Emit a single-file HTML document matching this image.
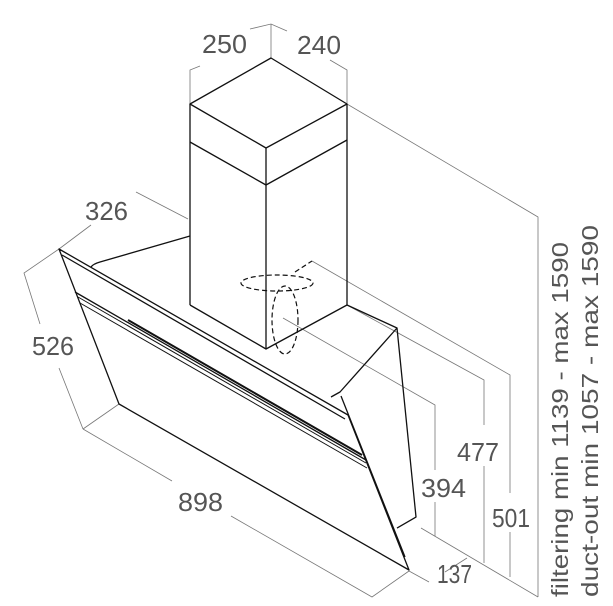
<!DOCTYPE html>
<html><head><meta charset="utf-8"><style>
html,body{margin:0;padding:0;background:#fff}
svg{display:block}
text{font-family:"Liberation Sans",sans-serif;fill:#555}
</style></head><body>
<svg width="613" height="606" viewBox="0 0 613 606" xmlns="http://www.w3.org/2000/svg">
<g fill="none" stroke="#777" stroke-width="0.8">
<polyline points="190,104 190,70 200,66"/>
<polyline points="250,29 271,24 287,31"/>
<line x1="271" y1="24" x2="271" y2="58"/>
<polyline points="347,104 347,70 330,60"/>
<polyline points="347,104 538,217 538,597"/>
<line x1="421" y1="528" x2="538" y2="597"/>
<polyline points="312,261 510,375 510,493"/>
<line x1="510" y1="532" x2="510" y2="577"/>
<polyline points="347,305 484,380 484,425"/>
<line x1="484" y1="466" x2="484" y2="563"/>
<polyline points="283,318 435,405 435,470"/>
<line x1="435" y1="502" x2="435" y2="536"/>
<polyline points="136,192 188,219"/>
<line x1="59" y1="249" x2="91" y2="225"/>
<polyline points="59,249 24,273 40,324"/>
<polyline points="59,368 83,429"/>
<line x1="119" y1="404" x2="83" y2="429"/>
<line x1="83" y1="429" x2="172" y2="481"/>
<polyline points="231,516 372,597 409,571"/>
<polyline points="409,571 429,582"/>
<line x1="467" y1="558" x2="445" y2="572"/>
</g>
<g fill="none" stroke="#111" stroke-width="1.3" stroke-linejoin="round">
<polygon points="271,58 347,104 266,148 190,104"/>
<line x1="266" y1="148" x2="266" y2="185"/>
<line x1="190" y1="104" x2="190" y2="305"/>
<line x1="347" y1="104" x2="347" y2="305"/>
<polyline points="190,142 266,185 347,140"/>
<line x1="266" y1="185" x2="266" y2="349"/>
<polyline points="190,305 266,349 347,305"/>
<path d="M190,236 L100,262 Q93,264 91,267"/>
<polyline points="347,305 397,328 416,517 397,528"/>
<polyline points="397,328 340,392 331,397"/>
<polygon points="59,249 348,415 409,570 119,404"/>
<line x1="62" y1="255" x2="345" y2="419"/>
<line x1="341" y1="396" x2="405" y2="557"/>
<line x1="75" y1="292" x2="366" y2="460"/>
<line x1="78" y1="297" x2="366" y2="463" stroke-width="1"/>
<line x1="80" y1="303" x2="367" y2="468" stroke-width="1"/>
<line x1="128" y1="320" x2="362" y2="455" stroke-width="2"/>
</g>
<g fill="none" stroke="#111" stroke-width="1.2" stroke-dasharray="5,3">
<ellipse cx="277" cy="283" rx="36" ry="8"/>
<ellipse cx="285" cy="320" rx="13" ry="34"/>
<line x1="295" y1="272" x2="312" y2="261"/>
</g>
<g font-size="26">
<text x="202" y="53" textLength="45" lengthAdjust="spacingAndGlyphs">250</text>
<text x="297" y="54" textLength="44" lengthAdjust="spacingAndGlyphs">240</text>
<text x="85" y="220" textLength="43" lengthAdjust="spacingAndGlyphs">326</text>
<text x="32" y="355" textLength="42" lengthAdjust="spacingAndGlyphs">526</text>
<text x="178" y="511" textLength="45" lengthAdjust="spacingAndGlyphs">898</text>
<text x="457" y="461" textLength="42" lengthAdjust="spacingAndGlyphs">477</text>
<text x="421" y="497" textLength="45" lengthAdjust="spacingAndGlyphs">394</text>
<text x="492" y="527" textLength="38" lengthAdjust="spacingAndGlyphs">501</text>
<text x="437" y="583" textLength="35" lengthAdjust="spacingAndGlyphs">137</text>
</g>
<g font-size="23">
<text transform="translate(568,597) rotate(-90)" textLength="355" lengthAdjust="spacingAndGlyphs">filtering min 1139 - max 1590</text>
<text transform="translate(598,597) rotate(-90)" textLength="372" lengthAdjust="spacingAndGlyphs">duct-out min 1057 - max 1590</text>
</g>
</svg>
</body></html>
